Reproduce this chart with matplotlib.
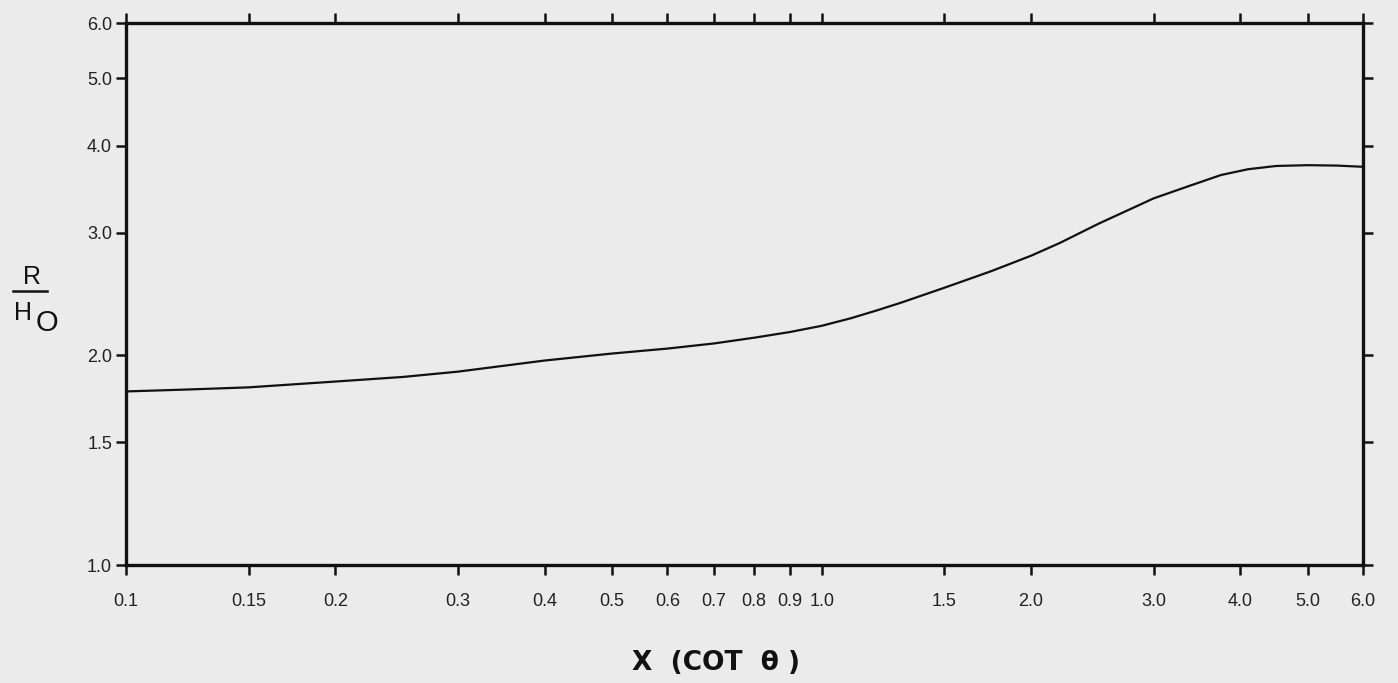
import matplotlib
matplotlib.use("Agg")
import matplotlib.pyplot as plt
from matplotlib.ticker import FixedLocator, FixedFormatter, NullLocator
from matplotlib.lines import Line2D

# Data (log-log plot)
x_cot = [0.1, 0.12, 0.15, 0.2, 0.25, 0.3, 0.4, 0.5, 0.6, 0.7, 0.8, 0.9, 1.0,
         1.1, 1.2, 1.3, 1.5, 1.75, 2.0, 2.2, 2.5, 2.8, 3.0, 3.4, 3.75, 4.1,
         4.5, 5.0, 5.5, 6.0]
r_over_h = [1.775, 1.785, 1.799, 1.834, 1.862, 1.895, 1.966, 2.012, 2.045, 2.08,
            2.12, 2.16, 2.205, 2.26, 2.32, 2.38, 2.50, 2.64, 2.78, 2.90, 3.09,
            3.255, 3.36, 3.51, 3.63, 3.70, 3.74, 3.75, 3.745, 3.73]

x_ticks = [0.1, 0.15, 0.2, 0.3, 0.4, 0.5, 0.6, 0.7, 0.8, 0.9, 1.0,
           1.5, 2.0, 3.0, 4.0, 5.0, 6.0]
x_tick_labels = ["0.1", "0.15", "0.2", "0.3", "0.4", "0.5", "0.6", "0.7", "0.8",
                 "0.9", "1.0", "1.5", "2.0", "3.0", "4.0", "5.0", "6.0"]
y_ticks = [1.0, 1.5, 2.0, 3.0, 4.0, 5.0, 6.0]
y_tick_labels = ["1.0", "1.5", "2.0", "3.0", "4.0", "5.0", "6.0"]

bg = "#ebebeb"
ink = "#111111"
W, H = 1398, 683
fig = plt.figure(figsize=(W / 100, H / 100), dpi=100, facecolor=bg)
ax = fig.add_axes([126 / W, 1 - 565 / H, (1363 - 126) / W, (565 - 23) / H])
ax.set_facecolor(bg)

ax.plot(x_cot, r_over_h, color=ink, lw=1.6, solid_capstyle="round",
        solid_joinstyle="round")

ax.set_xscale("log")
ax.set_yscale("log")
ax.set_xlim(0.1, 6.0)
ax.set_ylim(1.0, 6.0)

ax.xaxis.set_major_locator(FixedLocator(x_ticks))
ax.xaxis.set_major_formatter(FixedFormatter(x_tick_labels))
ax.xaxis.set_minor_locator(NullLocator())
ax.yaxis.set_major_locator(FixedLocator(y_ticks))
ax.yaxis.set_major_formatter(FixedFormatter(y_tick_labels))
ax.yaxis.set_minor_locator(NullLocator())

for s in ax.spines.values():
    s.set_linewidth(2.4)
    s.set_color(ink)

ax.tick_params(axis="both", which="major", direction="out", length=7, width=1.8,
               color=ink, top=True, right=True, labeltop=False, labelright=False,
               labelsize=13, labelcolor="#222222")
ax.tick_params(axis="x", pad=13)
ax.tick_params(axis="y", pad=3)
for lab in ax.get_xticklabels() + ax.get_yticklabels():
    lab.set_family("Liberation Sans")

# x-axis title
fig.text(716 / W, 1 - 663 / H, "X  (COT  θ )", fontsize=19, family="DejaVu Sans",
         weight="bold", color=ink, ha="center", va="center")

# R / H_O label
fig.text(32 / W, 1 - 277 / H, "R", fontsize=18, family="Liberation Sans",
         ha="center", va="center", color=ink)
fig.add_artist(Line2D([13 / W, 47 / W], [1 - 291 / H, 1 - 291 / H],
                      transform=fig.transFigure, color=ink, lw=1.8))
fig.text(23 / W, 1 - 313 / H, "H", fontsize=18, family="Liberation Sans",
         ha="center", va="center", color=ink)
fig.text(47 / W, 1 - 323 / H, "O", fontsize=21, family="Liberation Sans",
         ha="center", va="center", color=ink)

fig.savefig("out.png", dpi=100, facecolor=bg)
